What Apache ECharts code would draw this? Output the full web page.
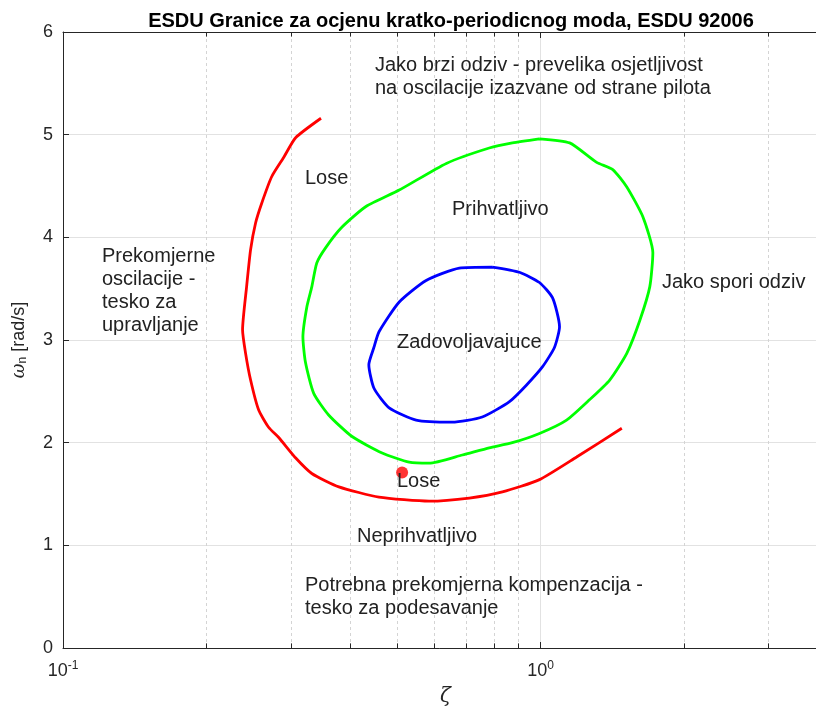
<!DOCTYPE html>
<html><head><meta charset="utf-8">
<script src="https://cdn.jsdelivr.net/npm/echarts@6/dist/echarts.min.js"></script>
<style>html,body{margin:0;padding:0;background:#fff}#c{width:816px;height:706px}</style>
</head><body><div id="c"></div>
<script>
// ---- data ----
const redZeta = [0.347,0.307,0.290,0.2735,0.2606,0.2531,0.2471,0.2424,0.2377,0.2412,0.2471,0.2568,0.2695,0.2830,0.3072,0.3319,0.3782,0.4589,0.5844,0.7094,0.8322,0.995,1.190,1.480];
const redWn   = [5.16,4.97,4.78,4.59,4.33,4.14,3.88,3.52,3.10,2.87,2.61,2.32,2.15,2.05,1.85,1.70,1.57,1.47,1.43,1.46,1.52,1.64,1.86,2.14];
const greenZeta = [0.995,1.151,1.311,1.417,1.516,1.638,1.719,1.694,1.614,1.516,1.396,1.268,1.134,0.995,0.873,0.781,0.686,0.584,0.531,0.466,0.403,0.360,0.335,0.322,0.318,0.324,0.332,0.340,0.355,0.384,0.431,0.506,0.635,0.781,0.873,0.995];
const greenWn   = [4.96,4.92,4.73,4.66,4.49,4.20,3.85,3.52,3.19,2.87,2.61,2.42,2.22,2.09,2.00,1.95,1.88,1.80,1.81,1.90,2.06,2.27,2.48,2.78,3.03,3.32,3.52,3.75,3.90,4.10,4.30,4.46,4.72,4.87,4.92,4.96];
const blueZeta = [0.792,0.903,0.995,1.060,1.096,1.070,1.010,0.934,0.861,0.755,0.653,0.549,0.482,0.448,0.437,0.448,0.459,0.506,0.576,0.676,0.792];
const blueWn   = [3.71,3.66,3.56,3.41,3.13,2.93,2.74,2.56,2.40,2.25,2.20,2.22,2.34,2.53,2.76,2.93,3.08,3.37,3.58,3.70,3.71];
const pointZeta = [0.513];
const pointWn   = [1.71];
const minorGridX = [0.2,0.3,0.4,0.5,0.6,0.7,0.8,0.9,2,3,4];
const xMajorLabels = {0.1:'-1', 1:'0'};
const yMin = 0, yMax = 6, yStep = 1;
const xMin = 0.1, xMax = 4;
const titleText = 'ESDU Granice za ocjenu kratko-periodicnog moda, ESDU 92006';
const annotations = [
  {x:375, y:65,  lines:['Jako brzi odziv - prevelika osjetljivost','na oscilacije izazvane od strane pilota']},
  {x:305, y:178, lines:['Lose']},
  {x:452, y:209, lines:['Prihvatljivo']},
  {x:102, y:256, lines:['Prekomjerne','oscilacije -','tesko za','upravljanje']},
  {x:662, y:282, lines:['Jako spori odziv']},
  {x:397, y:342, lines:['Zadovoljavajuce']},
  {x:397, y:481, lines:['Lose']},
  {x:357, y:536, lines:['Neprihvatljivo']},
  {x:305, y:585, lines:['Potrebna prekomjerna kompenzacija -','tesko za podesavanje']}
];
// ---- build ----
const zip = (a,b) => a.map((v,i)=>[v,b[i]]);
const FONT = '"Liberation Sans", Arial, Helvetica, sans-serif';
const AX = '#262626';
const tickLen = 0.045;
const chart = echarts.init(document.getElementById('c'), null, {renderer:'canvas'});
const curve = (name, data, color) => ({
  name, type:'line', data, xAxisIndex:0, yAxisIndex:0,
  symbol:'none', showSymbol:false, smooth:0.2, clip:false,
  lineStyle:{color, width:2.8}, z:5, silent:true
});
chart.setOption({
  backgroundColor:'#fff',
  animation:false,
  title:{text:titleText, left:446, top:6, textAlign:'center',
    textStyle:{fontFamily:FONT, fontSize:20, fontWeight:'bold', color:'#000'}},
  grid:{left:63, right:-12, top:32, bottom:58, containLabel:false, outerBoundsMode:'none'},
  xAxis:[{
    type:'log', logBase:10, min:xMin, max:xMax, position:'bottom',
    name:'ζ', nameLocation:'middle', nameGap:38,
    nameTextStyle:{fontFamily:'"DejaVu Serif", serif', fontStyle:'italic', fontSize:20, color:AX},
    axisLine:{show:true, lineStyle:{color:AX, width:1}},
    axisTick:{show:true, inside:true, length:6, lineStyle:{color:AX}},
    splitLine:{show:true, lineStyle:{color:'#e2e2e2', width:1}},
    minorTick:{show:false}, minorSplitLine:{show:false},
    axisLabel:{margin:12, color:AX, showMinLabel:true, showMaxLabel:false,
      formatter:v=>{
        for (const k in xMajorLabels){ if (Math.abs(v-Number(k))<1e-9) return '{b|10}{s|'+xMajorLabels[k]+'}'; }
        return '';
      },
      rich:{b:{fontFamily:FONT, fontSize:18, color:AX, lineHeight:22},
            s:{fontFamily:FONT, fontSize:12, color:AX, padding:[0,0,10,0], lineHeight:22}}}
  },{
    type:'log', logBase:10, min:xMin, max:xMax, position:'top',
    axisLine:{show:true, lineStyle:{color:AX, width:1}},
    axisTick:{show:true, inside:true, length:6, lineStyle:{color:AX}},
    axisLabel:{show:false}, splitLine:{show:false}
  }],
  yAxis:[{
    type:'value', min:yMin, max:yMax, interval:yStep,
    name:'{w|ω}{n|n}{t| [rad/s]}', nameLocation:'middle', nameGap:34, nameRotate:90,
    nameTextStyle:{rich:{
      w:{fontFamily:'"DejaVu Serif", serif', fontStyle:'italic', fontSize:18, color:AX},
      n:{fontFamily:FONT, fontSize:12, color:AX, padding:[8,0,0,0]},
      t:{fontFamily:FONT, fontSize:18, color:AX}}},
    axisLine:{show:true, lineStyle:{color:AX, width:1}},
    axisTick:{show:true, inside:true, length:6, lineStyle:{color:AX}},
    splitLine:{show:true, lineStyle:{color:'#e2e2e2', width:1}},
    axisLabel:{margin:10, color:AX, fontFamily:FONT, fontSize:18}
  }],
  graphic: annotations.map(a=>({
    type:'text', x:a.x, y:a.y-11.5, silent:true, z:10,
    style:{text:a.lines.join('\n'), fontFamily:FONT, fontSize:20, lineHeight:23,
      fill:'#222', align:'left', verticalAlign:'top'}
  })),
  series:[
    {type:'line', data:[], xAxisIndex:0, yAxisIndex:0, silent:true, z:1,
     markLine:{silent:true, symbol:['none','none'], label:{show:false}, animation:false,
       lineStyle:{color:'#d4d4d4', width:1, type:[3,3]},
       data:minorGridX.map(v=>({xAxis:v}))}},
    {type:'line', data:[], xAxisIndex:0, yAxisIndex:0, silent:true, z:2,
     markLine:{silent:true, symbol:['none','none'], label:{show:false}, animation:false,
       lineStyle:{color:AX, width:1, type:'solid'},
       data:minorGridX.flatMap(v=>[
         [{coord:[v,yMin]},{coord:[v,yMin+tickLen]}],
         [{coord:[v,yMax]},{coord:[v,yMax-tickLen]}]])}},
    curve('red', zip(redZeta, redWn), '#ff0000'),
    curve('green', zip(greenZeta, greenWn), '#00ff00'),
    curve('blue', zip(blueZeta, blueWn), '#0000ff'),
    {type:'scatter', data:zip(pointZeta, pointWn), symbol:'circle', symbolSize:12,
     itemStyle:{color:'#ff0000'}, z:6, silent:true}
  ]
});
</script></body></html>
